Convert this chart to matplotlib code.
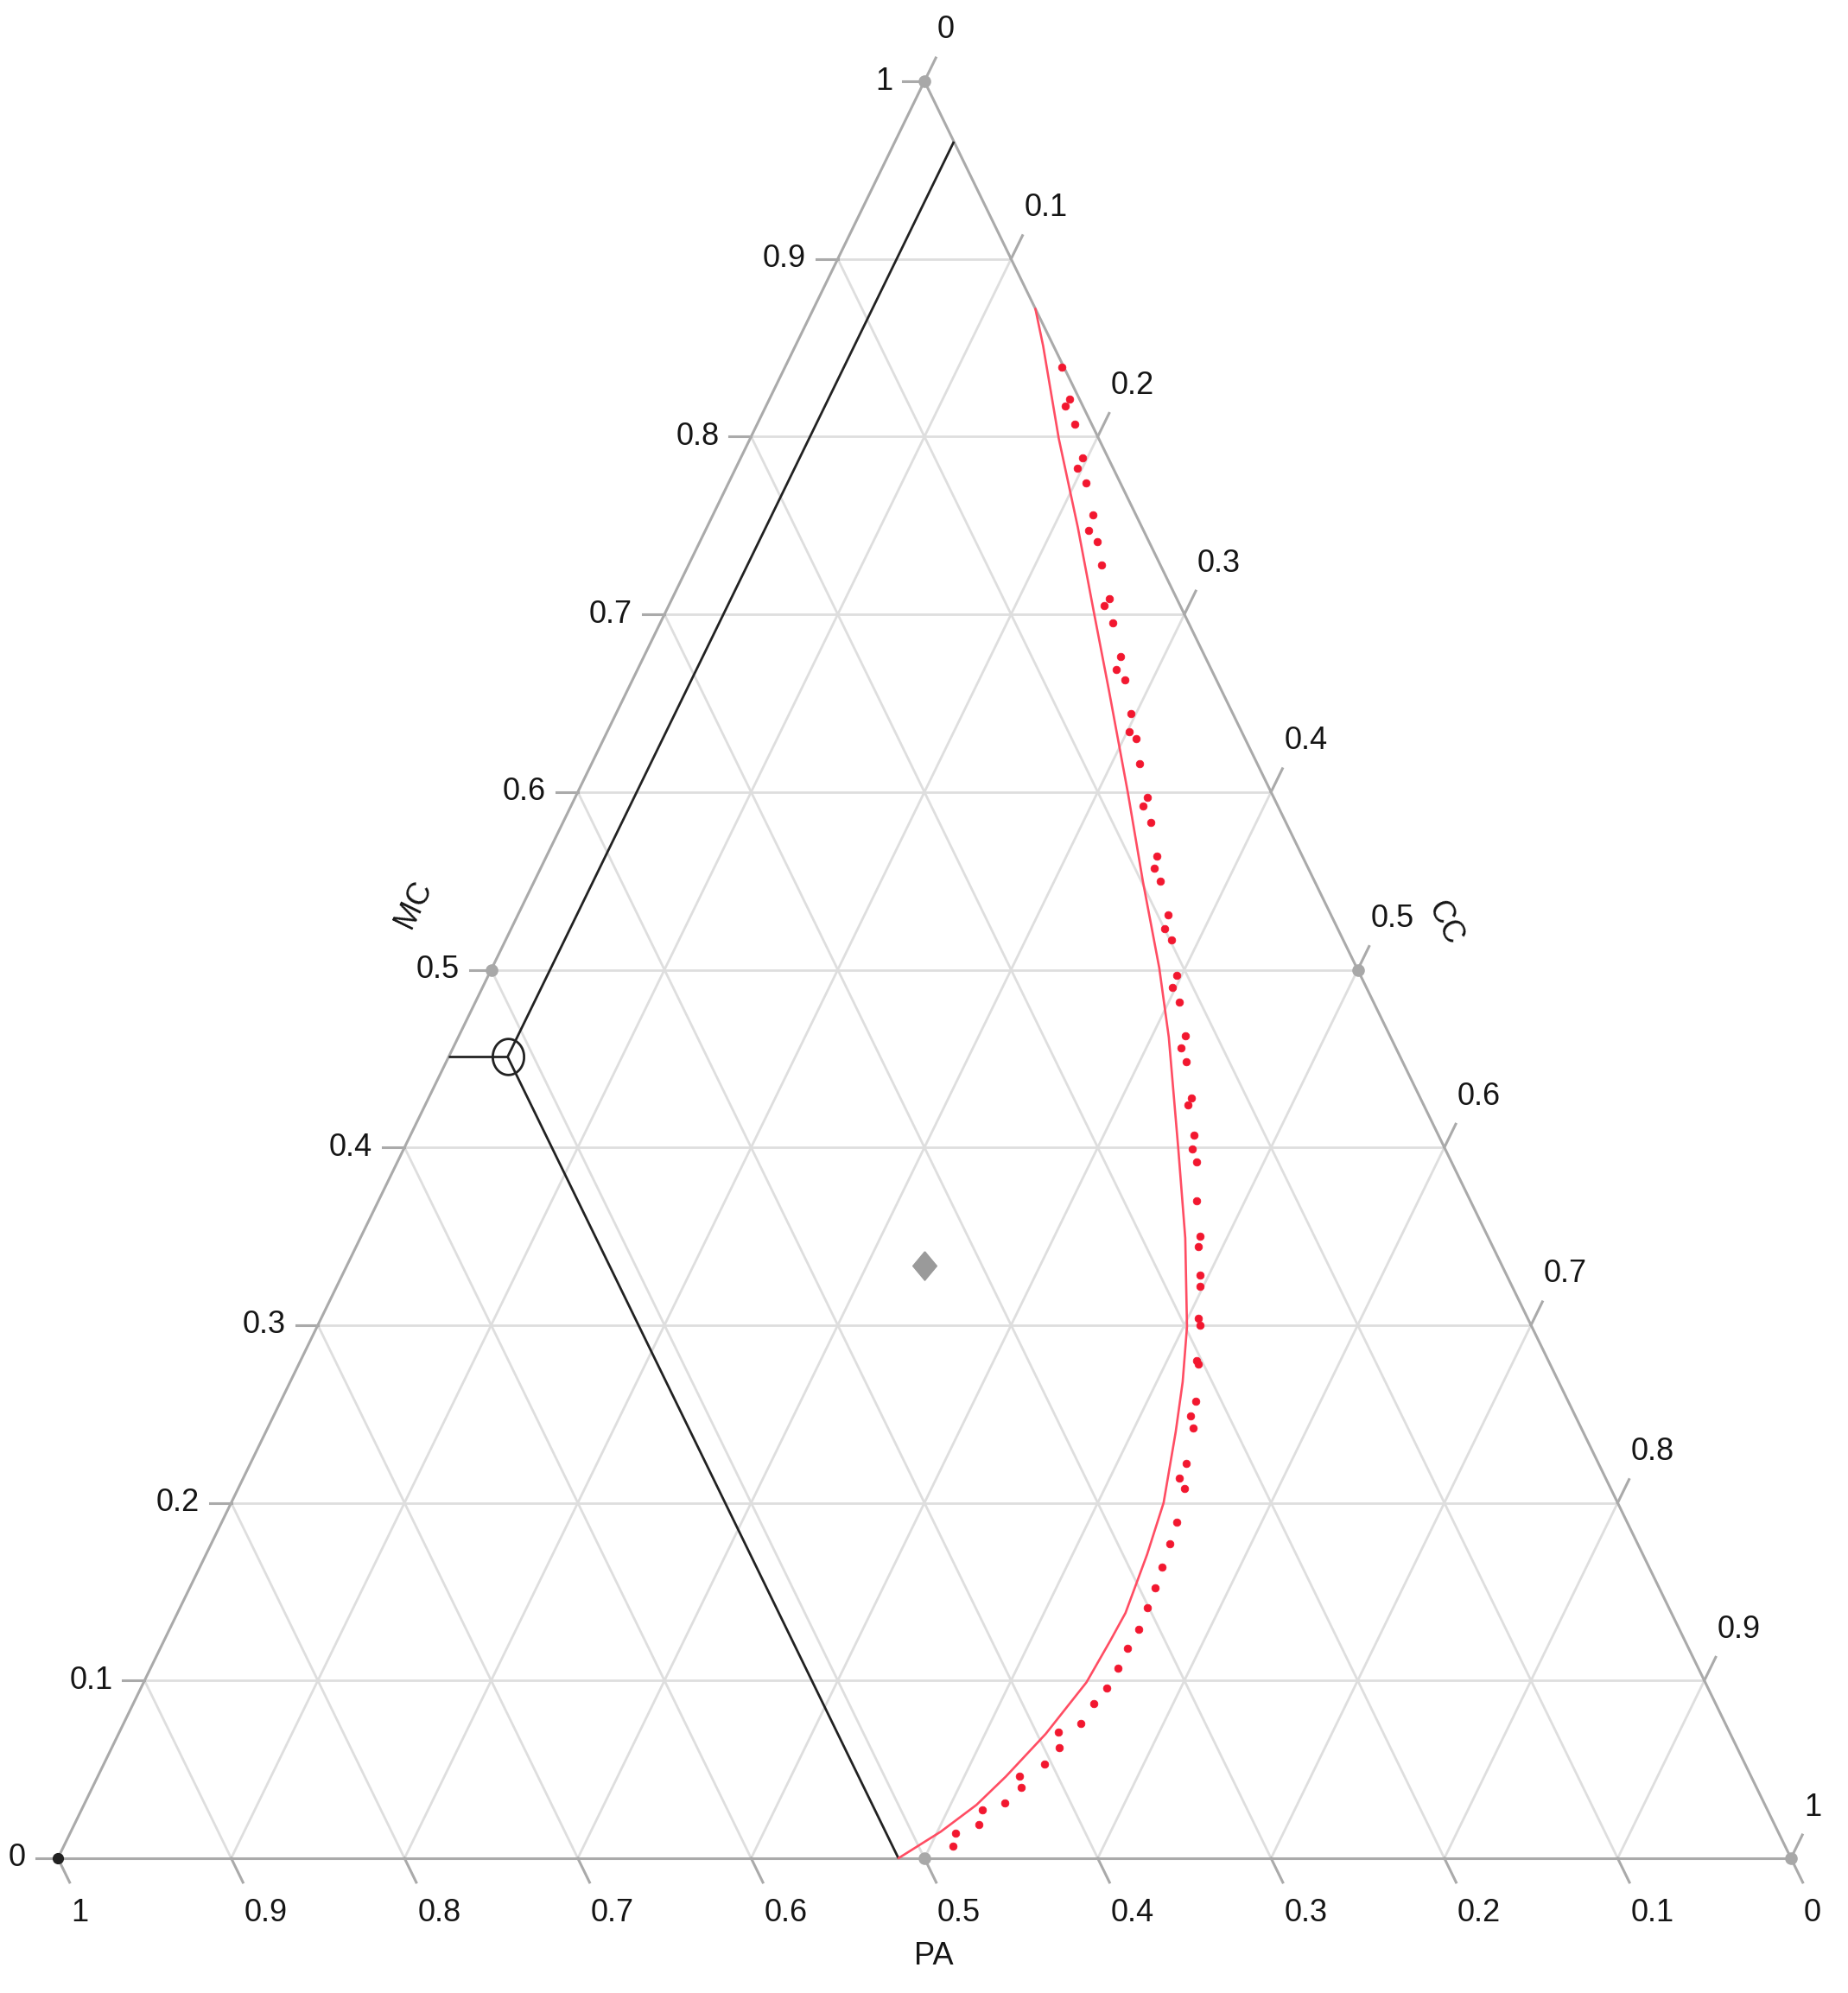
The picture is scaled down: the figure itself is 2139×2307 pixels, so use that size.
import matplotlib
matplotlib.use("Agg")
import matplotlib.pyplot as plt
import matplotlib.font_manager as fm
import numpy as np

# ---------------- data (ternary fractions) ----------------
tick_values = [0.0, 0.1, 0.2, 0.3, 0.4, 0.5, 0.6, 0.7, 0.8, 0.9, 1.0]
tick_labels = ["0", "0.1", "0.2", "0.3", "0.4", "0.5", "0.6", "0.7", "0.8", "0.9", "1"]
grid_values = [0.1, 0.2, 0.3, 0.4, 0.5, 0.6, 0.7, 0.8, 0.9]

# reference points (PA, MC, CC)
ref_pa = [0.0, 0.0, 0.5, 0.0, 0.5]
ref_mc = [1.0, 0.0, 0.5, 0.5, 0.0]
ref_cc = [0.0, 1.0, 0.0, 0.5, 0.5]
corner_pa, corner_mc, corner_cc = 1.0, 0.0, 0.0
centroid_pa, centroid_mc, centroid_cc = 1 / 3, 1 / 3, 1 / 3

# highlighted composition with guide lines
sel_pa, sel_mc, sel_cc = 0.515, 0.451, 0.034

# red solid curve (MC, CC); PA = 1 - MC - CC
curve_mc = [0.872, 0.851, 0.799, 0.749, 0.700, 0.657, 0.599, 0.550, 0.501, 0.462,
            0.399, 0.349, 0.299, 0.268, 0.240, 0.200, 0.171, 0.138, 0.122, 0.099,
            0.070, 0.046, 0.030, 0.015, 0.000]
curve_cc = [0.128, 0.143, 0.178, 0.214, 0.248, 0.278, 0.318, 0.351, 0.385, 0.410,
            0.447, 0.476, 0.502, 0.515, 0.525, 0.538, 0.543, 0.547, 0.546, 0.544,
            0.535, 0.524, 0.515, 0.502, 0.485]

# red dotted points (MC, CC)
dots_mc = [0.839, 0.821, 0.817, 0.807, 0.788, 0.782, 0.774, 0.756, 0.747, 0.741,
           0.728, 0.709, 0.705, 0.695, 0.676, 0.669, 0.663, 0.644, 0.634, 0.630,
           0.616, 0.597, 0.592, 0.583, 0.564, 0.557, 0.550, 0.531, 0.523, 0.517,
           0.497, 0.490, 0.482, 0.463, 0.456, 0.448, 0.428, 0.424, 0.407, 0.399,
           0.392, 0.370, 0.350, 0.344, 0.328, 0.322, 0.304, 0.300, 0.280, 0.278,
           0.257, 0.249, 0.242, 0.222, 0.214, 0.208, 0.189, 0.177, 0.164, 0.152,
           0.141, 0.129, 0.118, 0.107, 0.096, 0.087, 0.076, 0.071, 0.062, 0.053,
           0.046, 0.040, 0.031, 0.027, 0.019, 0.014, 0.007]
dots_cc = [0.160, 0.173, 0.173, 0.183, 0.197, 0.197, 0.206, 0.219, 0.221, 0.229,
           0.238, 0.252, 0.251, 0.261, 0.275, 0.276, 0.284, 0.297, 0.301, 0.307,
           0.316, 0.330, 0.330, 0.339, 0.352, 0.354, 0.361, 0.375, 0.377, 0.384,
           0.397, 0.398, 0.406, 0.419, 0.420, 0.427, 0.440, 0.440, 0.452, 0.455,
           0.461, 0.472, 0.484, 0.486, 0.495, 0.498, 0.506, 0.509, 0.517, 0.519,
           0.528, 0.529, 0.534, 0.540, 0.540, 0.546, 0.551, 0.553, 0.555, 0.557,
           0.558, 0.559, 0.558, 0.558, 0.557, 0.554, 0.552, 0.542, 0.547, 0.543,
           0.532, 0.536, 0.531, 0.520, 0.522, 0.511, 0.513]

axis_names = ["PA", "MC", "CC"]

# ---------------- styling ----------------
W, H = 2139, 2307
X0, X1, YB, YT = 67, 2073, 2151, 94          # triangle vertex pixels
PXW, PXH = X1 - X0, YB - YT
names = {f.name for f in fm.fontManager.ttflist}
if "Liberation Sans Narrow" in names:
    FONT, FS = "Liberation Sans Narrow", 30
else:
    FONT, FS = "Liberation Sans", 26
TXT = "#151515"
EDGE = "#aaaaaa"
GRID = "#dedede"

fig = plt.figure(figsize=(W / 100, H / 100), dpi=100)
fig.patch.set_facecolor("white")
ax = fig.add_axes([X0 / W, (H - YB) / H, PXW / W, PXH / H])
ax.set_xlim(0, 1)
ax.set_ylim(0, 1)
ax.axis("off")


def tern(pa, mc, cc):
    pa, mc, cc = np.asarray(pa, float), np.asarray(mc, float), np.asarray(cc, float)
    return cc + 0.5 * mc, mc


def seg(p1, p2, **kw):
    x1, y1 = tern(*p1)
    x2, y2 = tern(*p2)
    ax.plot([x1, x2], [y1, y2], clip_on=False, solid_capstyle="butt", **kw)


# grid
for v in grid_values:
    seg((1 - v, v, 0), (0, v, 1 - v), color=GRID, lw=2.0, zorder=1)      # MC const
    seg((1 - v, 0, v), (0, 1 - v, v), color=GRID, lw=2.0, zorder=1)      # CC const
    seg((v, 0, 1 - v), (v, 1 - v, 0), color=GRID, lw=2.0, zorder=1)      # PA const

# edges
seg((1, 0, 0), (0, 0, 1), color=EDGE, lw=2.2, zorder=2)
seg((1, 0, 0), (0, 1, 0), color=EDGE, lw=2.2, zorder=2)
seg((0, 1, 0), (0, 0, 1), color=EDGE, lw=2.2, zorder=2)

# ticks and tick labels
ux, uy = 0.439, 0.899
for v, lab in zip(tick_values, tick_labels):
    # MC (left edge, horizontal ticks to the left)
    x, y = tern(1 - v, v, 0)
    ax.plot([x, x - 25 / PXW], [y, y], color=EDGE, lw=2.2, clip_on=False, zorder=2)
    ax.annotate(lab, (x, y), xytext=(-37, 0), textcoords="offset pixels",
                ha="right", va="center", fontsize=FS, family=FONT, color=TXT,
                annotation_clip=False)
    # CC (right edge, ticks up-right)
    x, y = tern(0, 1 - v, v)
    ax.plot([x, x + 30 * ux / PXW], [y, y + 30 * uy / PXH], color=EDGE, lw=2.2,
            clip_on=False, zorder=2)
    ax.annotate(lab, (x, y), xytext=(15, 59), textcoords="offset pixels",
                ha="left", va="center", fontsize=FS, family=FONT, color=TXT,
                annotation_clip=False)
    # PA (bottom edge, ticks down-right)
    x, y = tern(v, 0, 1 - v)
    ax.plot([x, x + 31 * ux / PXW], [y, y - 31 * uy / PXH], color=EDGE, lw=2.2,
            clip_on=False, zorder=2)
    ax.annotate(lab, (x, y), xytext=(15, -64), textcoords="offset pixels",
                ha="left", va="center", fontsize=FS, family=FONT, color=TXT,
                annotation_clip=False)

# axis titles
x, y = tern(0.5, 0, 0.5)
ax.annotate(axis_names[0], (x, y), xytext=(11, -114), textcoords="offset pixels",
            ha="center", va="center", fontsize=FS, family=FONT, color=TXT,
            annotation_clip=False)
x, y = tern(0.5, 0.5, 0)
ax.annotate(axis_names[1], (x, y), xytext=(-90, 76), textcoords="offset pixels",
            ha="center", va="center", fontsize=FS, family=FONT, color=TXT,
            rotation=64, rotation_mode="anchor", annotation_clip=False)
x, y = tern(0, 0.5, 0.5)
ax.annotate(axis_names[2], (x, y), xytext=(101, 54), textcoords="offset pixels",
            ha="center", va="center", fontsize=FS, family=FONT, color=TXT,
            rotation=-64, rotation_mode="anchor", annotation_clip=False)

# guide lines from the selected composition
LINE = "#222222"
seg((sel_pa, sel_mc, sel_cc), (0, 1 - sel_cc, sel_cc), color=LINE, lw=2.0, zorder=3)
seg((sel_pa, sel_mc, sel_cc), (sel_pa, 0, 1 - sel_pa), color=LINE, lw=2.0, zorder=3)
seg((sel_pa, sel_mc, sel_cc), (1 - sel_mc, sel_mc, 0), color=LINE, lw=2.0, zorder=3)

# red curve
cmc = np.array(curve_mc)
ccc = np.array(curve_cc)
cx, cy = tern(1 - cmc - ccc, cmc, ccc)
ax.plot(cx, cy, color="#ff4d63", lw=1.9, zorder=4, clip_on=False,
        solid_joinstyle="round", solid_capstyle="round")

# red dots
dmc = np.array(dots_mc)
dcc = np.array(dots_cc)
dx, dy = tern(1 - dmc - dcc, dmc, dcc)
ax.plot(dx, dy, ls="none", marker="o", ms=6.3, mfc="#f2172f", mec="#f2172f",
        mew=0.5, zorder=5, clip_on=False)

# reference markers
rx, ry = tern(ref_pa, ref_mc, ref_cc)
ax.plot(rx, ry, ls="none", marker="o", ms=9.5, mfc="#a8a8a8", mec="#a8a8a8",
        zorder=6, clip_on=False)
kx, ky = tern(corner_pa, corner_mc, corner_cc)
ax.plot([kx], [ky], ls="none", marker="o", ms=8.5, mfc="#222222", mec="#222222",
        zorder=6, clip_on=False)
gx, gy = tern(centroid_pa, centroid_mc, centroid_cc)
diamond = [(0, 1.2), (1, 0), (0, -1.2), (-1, 0), (0, 1.2)]
ax.plot([gx], [gy], ls="none", marker=diamond, ms=24, mfc="#9a9a9a", mec="#9a9a9a",
        zorder=6, clip_on=False)

# hollow circle marker at the selected composition
th = np.linspace(0, 2 * np.pi, 60)
ell = list(zip(0.87 * np.cos(th), np.sin(th)))
sx, sy = tern(sel_pa, sel_mc, sel_cc)
ax.plot([sx], [sy], ls="none", marker=ell, ms=30, mfc="none", mec=LINE, mew=2.0,
        zorder=7, clip_on=False)

fig.savefig("out.png", dpi=100, facecolor="white")
